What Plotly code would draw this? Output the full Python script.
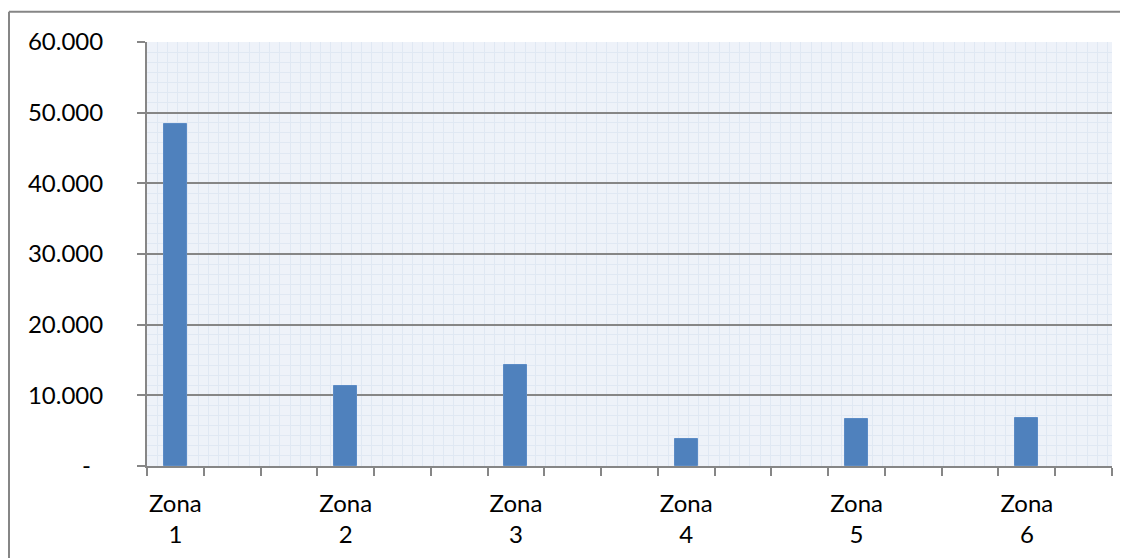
import plotly.graph_objects as go

# Data
categories = ["Zona 1", "Zona 2", "Zona 3", "Zona 4", "Zona 5", "Zona 6"]
values = [48400, 11380, 14250, 3840, 6670, 6810]
# Excel axis has 17 category slots; labels on every 3rd slot
slot_of_category = [0, 3, 6, 9, 12, 15]
n_slots = 17
y_tick_vals = [0, 10000, 20000, 30000, 40000, 50000, 60000]
y_tick_text = ["-\u00a0\u00a0", "10.000", "20.000", "30.000", "40.000", "50.000", "60.000"]

FONT = "Lato"
AXIS_GRAY = "#868686"

fig = go.Figure()
fig.add_trace(go.Bar(
    x=slot_of_category, y=values, width=0.405,
    marker=dict(color="#4F81BD", line=dict(color="#5B8BC6", width=1)),
    hoverinfo="skip", showlegend=False,
))
# dummy trace to materialise the overlaid tick-mark axis
fig.add_trace(go.Scatter(x=[], y=[], xaxis="x2", yaxis="y", showlegend=False, hoverinfo="skip"))

x_range = [-0.5, n_slots - 0.5]
border = dict(color=AXIS_GRAY, width=2)
fig.update_layout(
    width=1120, height=550,
    margin=dict(l=139, r=16, t=34, b=92),
    paper_bgcolor="white",
    plot_bgcolor="#EEF2F9",
    font=dict(family=FONT, size=24, color="#000000"),
    bargap=0,
    xaxis=dict(
        range=x_range,
        tickmode="array",
        tickvals=slot_of_category,
        ticktext=[c.replace(" ", "<br>") for c in categories],
        ticks="",
        showline=False,
        showgrid=False,
        zeroline=False,
        ticklabelstandoff=21,
        automargin=False,
        minor=dict(tickmode="linear", tick0=-0.5, dtick=0.18, showgrid=True,
                   gridcolor="#E0E8F3", gridwidth=1, ticks=""),
    ),
    xaxis2=dict(
        range=x_range,
        overlaying="x",
        anchor="y",
        side="bottom",
        tickmode="linear", tick0=-0.5, dtick=1,
        ticks="outside", ticklen=8, tickwidth=2, tickcolor=AXIS_GRAY,
        showticklabels=False,
        showline=True, linecolor=AXIS_GRAY, linewidth=2,
        showgrid=False, zeroline=False,
    ),
    yaxis=dict(
        range=[0, 60000],
        tickmode="array",
        tickvals=y_tick_vals,
        ticktext=y_tick_text,
        ticks="outside", ticklen=8, tickwidth=2, tickcolor=AXIS_GRAY,
        ticklabelstandoff=29,
        automargin=False,
        showline=True, linecolor=AXIS_GRAY, linewidth=2,
        showgrid=True, gridcolor=AXIS_GRAY, gridwidth=2,
        zeroline=False,
        minor=dict(tickmode="linear", tick0=0, dtick=10000 / 7, showgrid=True,
                   gridcolor="#E0E8F3", gridwidth=1, ticks=""),
    ),
    shapes=[
        dict(type="line", xref="paper", yref="paper",
             x0=-0.1430, x1=1.3, y0=1.0715, y1=1.0715, line=border, layer="below"),
        dict(type="line", xref="paper", yref="paper",
             x0=-0.1430, x1=-0.1430, y0=-0.4, y1=1.0715, line=border, layer="below"),
    ],
)

fig.write_html("out.html")
